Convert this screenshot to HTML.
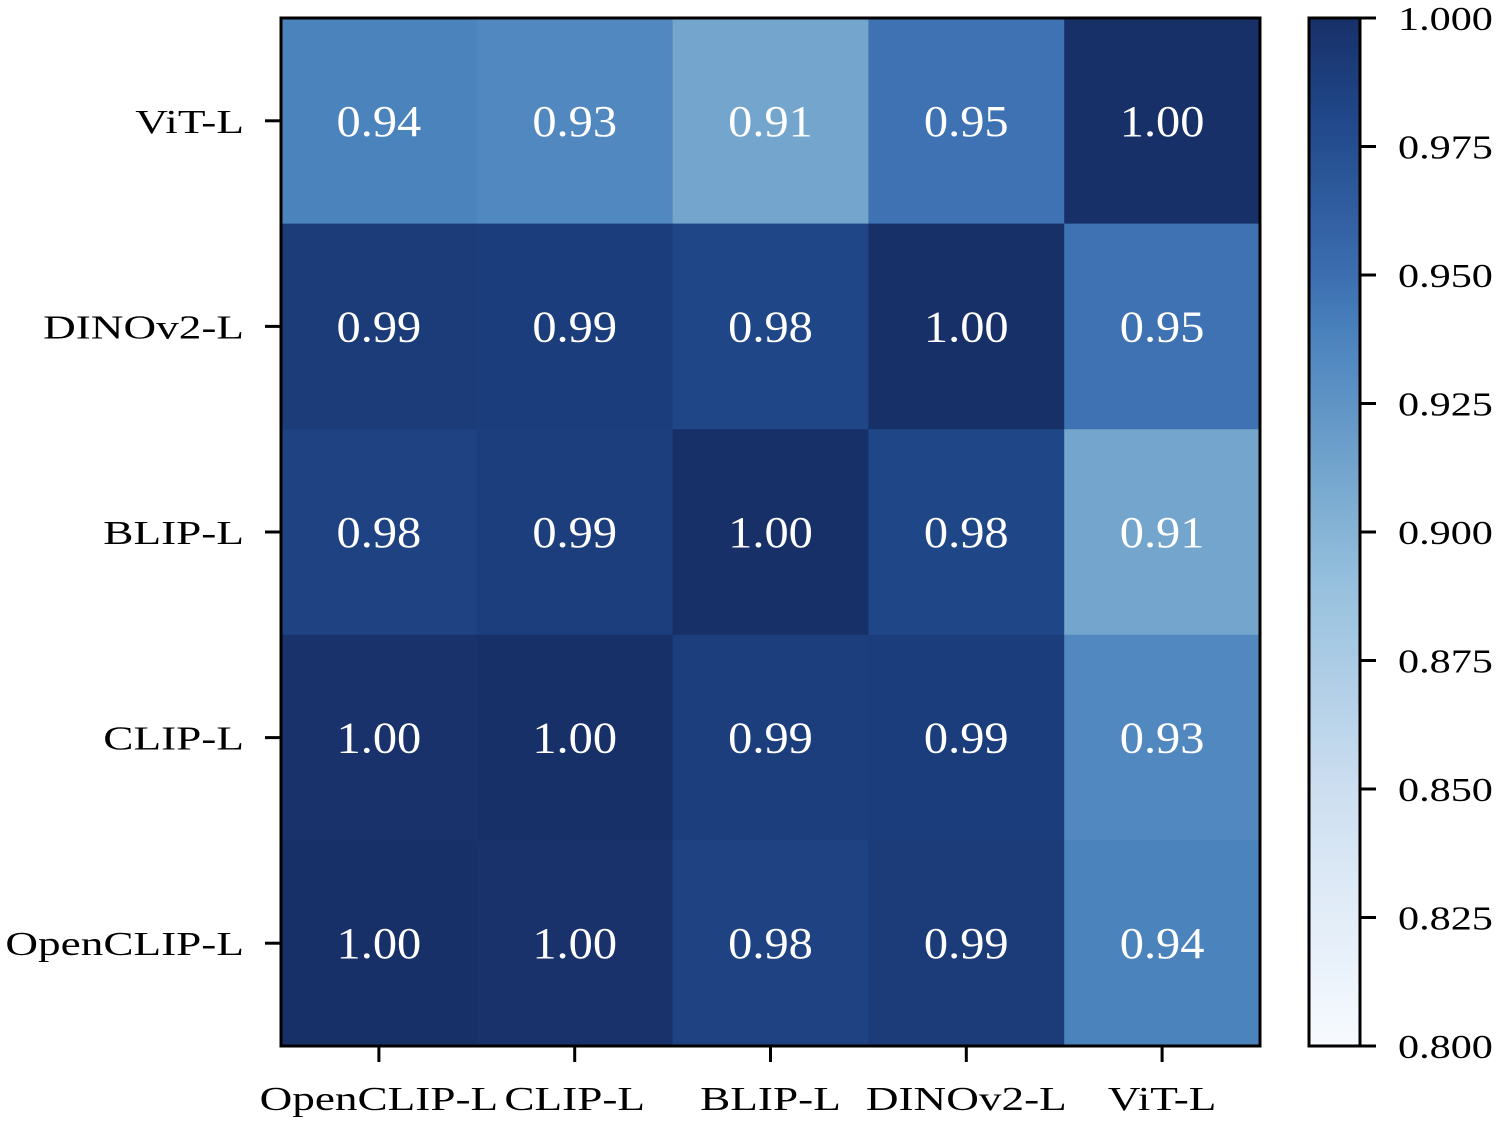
<!DOCTYPE html>
<html><head><meta charset="utf-8"><style>
html,body{margin:0;padding:0;background:#fff;width:1500px;height:1122px;overflow:hidden}
svg text{font-family:"Liberation Serif","DejaVu Serif",serif}
</style></head><body>
<svg id="chart" width="1500" height="1122" xmlns="http://www.w3.org/2000/svg"></svg>
<script>
const rowLabels = ["ViT-L","DINOv2-L","BLIP-L","CLIP-L","OpenCLIP-L"];
const colLabels = ["OpenCLIP-L","CLIP-L","BLIP-L","DINOv2-L","ViT-L"];
const row0 = [0.938,0.934,0.912,0.948,1.000];
const row1 = [0.990,0.989,0.982,1.000,0.948];
const row2 = [0.985,0.988,1.000,0.982,0.912];
const row3 = [0.998,1.000,0.988,0.989,0.934];
const row4 = [1.000,0.998,0.985,0.990,0.938];
const values = [row0,row1,row2,row3,row4];
const cbTicks = [0.800,0.825,0.850,0.875,0.900,0.925,0.950,0.975,1.000];
const vmin = 0.8, vmax = 1.0;

const NS="http://www.w3.org/2000/svg";
const svg=document.getElementById('chart');
const L=281,R=1260,T=18,B=1046;
const cw=(R-L)/colLabels.length, rh=(B-T)/rowLabels.length;
const xPos=i=>L+i*cw, yPos=j=>T+j*rh;
const cbL=1309,cbR=1360;
const cbY=v=>B-(v-vmin)/(vmax-vmin)*(B-T);
const stops=[[0,[247,251,255]],[.25,[205,222,240]],[.45,[150,192,222]],[.56,[115,165,205]],[.7,[72,128,188]],[.75,[60,110,175]],[.9,[32,72,138]],[1,[24,48,104]]];
function cmap(t){t=Math.max(0,Math.min(1,t));for(let i=1;i<stops.length;i++){if(t<=stops[i][0]){const a=stops[i-1],b=stops[i];const f=(t-a[0])/(b[0]-a[0]);const c=a[1].map((x,k)=>Math.round(x+(b[1][k]-x)*f));return `rgb(${c[0]},${c[1]},${c[2]})`;}}return 'rgb(24,48,104)';}
const color=v=>cmap((v-vmin)/(vmax-vmin));
function el(tag,attrs,text){const e=document.createElementNS(NS,tag);for(const k in attrs)e.setAttribute(k,attrs[k]);if(text!==undefined)e.textContent=text;svg.appendChild(e);return e;}
function stretch(t,ratio){const w=t.getComputedTextLength();t.setAttribute('textLength',(w*ratio).toFixed(1));t.setAttribute('lengthAdjust','spacingAndGlyphs');}

values.forEach((row,j)=>row.forEach((v,i)=>{
  const r=el('rect',{x:xPos(i),y:yPos(j),width:cw+0.5,height:rh+0.5,fill:color(v)});
  
  
  const t=el('text',{x:xPos(i)+cw/2,y:yPos(j)+rh/2+15,'text-anchor':'middle','font-size':44,fill:'#fff'},v.toFixed(2));
  
  
  stretch(t,1.1);
}));
const fr=el('rect',{x:L,y:T,width:R-L,height:B-T,fill:'none',stroke:'#000','stroke-width':3});


rowLabels.forEach((lab,j)=>{
  const y=yPos(j)+rh/2;
  const tk=el('line',{x1:L-16,x2:L,y1:y,y2:y,stroke:'#000','stroke-width':3});
  
  
  const t=el('text',{x:L-37,y:y+12,'text-anchor':'end','font-size':34,fill:'#000'},lab);
  
  
  stretch(t,1.33);
});
colLabels.forEach((lab,i)=>{
  const x=xPos(i)+cw/2;
  const tk=el('line',{x1:x,x2:x,y1:B,y2:B+16,stroke:'#000','stroke-width':3});
  
  
  const t=el('text',{x:x,y:B+64,'text-anchor':'middle','font-size':34,fill:'#000'},lab);
  
  
  stretch(t,1.33);
});
const defs=el('defs',{});
const g=document.createElementNS(NS,'linearGradient');
g.setAttribute('id','cbg');g.setAttribute('x1','0');g.setAttribute('y1','1');g.setAttribute('x2','0');g.setAttribute('y2','0');
for(let k=0;k<=40;k++){const s=document.createElementNS(NS,'stop');s.setAttribute('offset',k/40);s.setAttribute('stop-color',cmap(k/40));g.appendChild(s);}
defs.appendChild(g);
const cb=el('rect',{x:cbL,y:T,width:cbR-cbL,height:B-T,fill:'url(#cbg)',stroke:'#000','stroke-width':3});


cbTicks.forEach(v=>{
  const y=cbY(v);
  const tk=el('line',{x1:cbR,x2:cbR+16,y1:y,y2:y,stroke:'#000','stroke-width':3});
  
  
  const t=el('text',{x:cbR+38,y:y+12,'font-size':34,fill:'#000'},v.toFixed(3));
  
  
  stretch(t,1.24);
});
</script>
</body></html>
